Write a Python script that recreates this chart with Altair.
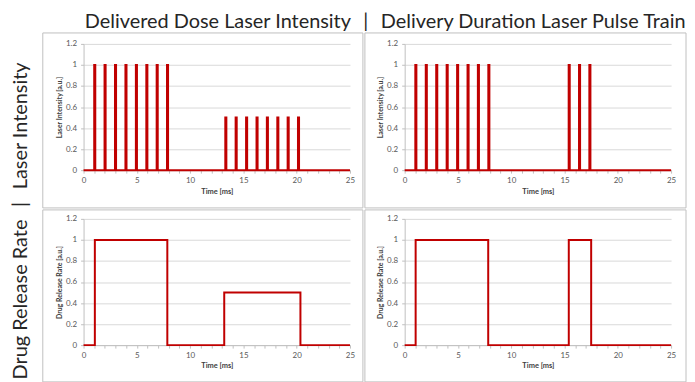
import altair as alt
import pandas as pd

RED = "#c00000"
GRID = "#d9d9d9"
FRAME = "#bfbfbf"

x_ticks = list(range(0, 26))
y_ticks = [0, 0.2, 0.4, 0.6, 0.8, 1.0, 1.2]

# Step-change times [ms] and the level after each change
tl_time = [0, 1.00, 1.10, 1.97, 2.07, 2.95, 3.05, 3.93, 4.03, 4.91, 5.01, 5.89, 5.99,
           6.86, 6.96, 7.83, 7.93,
           13.30, 13.40, 14.27, 14.37, 15.25, 15.35, 16.23, 16.33, 17.20, 17.30,
           18.18, 18.28, 19.15, 19.25, 20.12, 20.22, 25]
tl_level = [0, 1, 0, 1, 0, 1, 0, 1, 0, 1, 0, 1, 0, 1, 0, 1, 0,
            0.5, 0, 0.5, 0, 0.5, 0, 0.5, 0, 0.5, 0, 0.5, 0, 0.5, 0, 0.5, 0, 0]

tr_time = [0, 1.00, 1.10, 1.98, 2.08, 2.96, 3.06, 3.94, 4.04, 4.92, 5.02, 5.90, 6.00,
           6.87, 6.97, 7.85, 7.95, 15.39, 15.49, 16.36, 16.46, 17.33, 17.43, 25]
tr_level = [0, 1, 0, 1, 0, 1, 0, 1, 0, 1, 0, 1, 0, 1, 0, 1, 0, 1, 0, 1, 0, 1, 0, 0]

bl_time = [0, 1.06, 7.86, 13.20, 20.35, 25]
bl_level = [0, 1, 0, 0.5, 0, 0]

br_time = [0, 1.03, 7.84, 15.40, 17.50, 25]
br_level = [0, 1, 0, 1, 0, 0]

SEP = "\u00a0\u00a0\u2009|\u00a0\u00a0\u2009"
top_title = "Delivered Dose Laser Intensity" + SEP + "Delivery Duration Laser Pulse Train"
left_title = "Drug Release Rate" + SEP + "Laser Intensity"


def panel(times, levels, ytitle, box):
    df = pd.DataFrame({"t": times, "v": levels})
    x_axis = alt.Axis(
        title="Time [ms]", values=x_ticks,
        labelExpr="datum.value % 5 == 0 ? datum.label : ''",
        grid=False, domainColor=FRAME, tickColor=FRAME, tickSize=3,
        labelColor="#595959", labelFontSize=8, labelPadding=3,
        titleFontSize=7.5, titleFontWeight="bold", titleColor="#404040",
        titlePadding=3, labelFlush=False,
    )
    y_axis = alt.Axis(
        title=ytitle, values=y_ticks, format="~g",
        grid=True, gridColor=GRID, domainColor=FRAME, tickColor=FRAME,
        tickSize=3, labelColor="#595959", labelFontSize=8, labelPadding=4,
        titleFontSize=7, titleFontWeight="bold", titleColor="#404040",
        titlePadding=3,
    )
    line = alt.Chart(df).mark_line(
        interpolate="step-after", color=RED, strokeWidth=2
    ).encode(
        x=alt.X("t:Q", scale=alt.Scale(domain=[0, 25], nice=False), axis=x_axis),
        y=alt.Y("v:Q", scale=alt.Scale(domain=[0, 1.2], nice=False), axis=y_axis),
    )
    frame = alt.Chart(pd.DataFrame({"k": [0]})).mark_rect(
        fill="transparent", stroke=FRAME, strokeWidth=1
    ).encode(
        x=alt.value(box[0]), x2=alt.value(box[1]),
        y=alt.value(box[2]), y2=alt.value(box[3]),
    )
    return alt.layer(frame, line).properties(width=268, height=127)


tl = panel(tl_time, tl_level, "Laser Intensity [a.u.]", (-41, 281, -11, 165))
tr = panel(tr_time, tr_level, "Laser Intensity [a.u.]", (-40, 283, -11, 165))
bl = panel(bl_time, bl_level, "Drug Release Rate [a.u.]", (-41, 281, -9, 164))
br = panel(br_time, br_level, "Drug Release Rate [a.u.]", (-40, 283, -9, 164))

grid = alt.vconcat(
    alt.hconcat(tl, tr, spacing=0),
    alt.hconcat(bl, br, spacing=0),
    spacing=0,
    title=alt.TitleParams(left_title, orient="left", anchor="start", fontSize=20,
                          font="Lato", fontWeight="normal", color="#262626",
                          offset=11, dx=3),
)

chart = alt.hconcat(
    grid, spacing=0,
    title=alt.TitleParams(top_title, orient="top", anchor="end", fontSize=20,
                          font="Lato", fontWeight="normal", color="#262626",
                          offset=0, dx=-1),
).properties(
    padding={"left": 3, "top": 3, "right": 0, "bottom": 0}
).configure(font="Lato").configure_view(strokeWidth=0)

chart.save("out.html", embed_options={"renderer": "svg", "actions": False})
